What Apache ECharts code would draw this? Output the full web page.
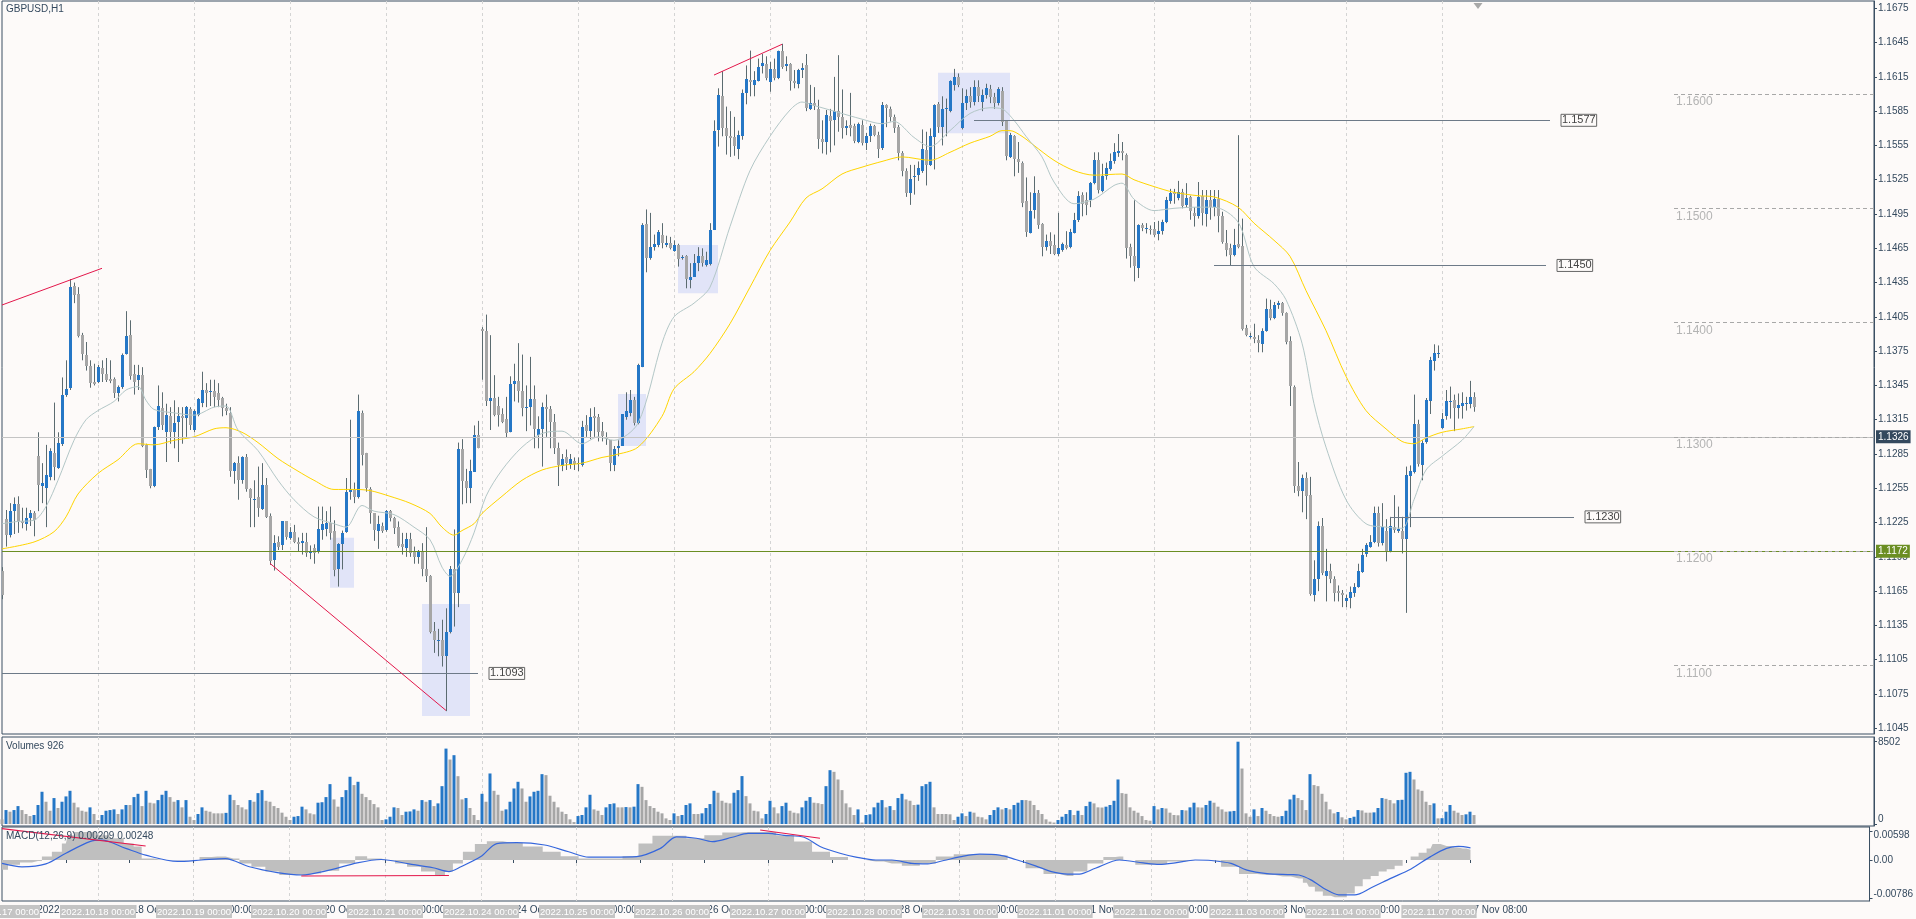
<!DOCTYPE html>
<html><head><meta charset="utf-8">
<script src="https://cdn.jsdelivr.net/npm/echarts@6/dist/echarts.min.js"></script>
<style>html,body{margin:0;padding:0;background:#fdfaf9;}#c{width:1916px;height:919px;}</style>
</head><body><div id="c"></div><script>
// ---------- DATA ----------
const tradingDays = ['2022.10.17','2022.10.18','2022.10.19','2022.10.20','2022.10.21','2022.10.24','2022.10.25','2022.10.26','2022.10.27','2022.10.28','2022.10.31','2022.11.01','2022.11.02','2022.11.03','2022.11.04','2022.11.07','2022.11.08','2022.11.09','2022.11.10','2022.11.11'];
const slotCount = 469;   // visible hourly slots (incl. empty right margin)
const lastBarIndex = 368;

// OHLC in 1/10000 units: [open, close, low, high]
const bars = [
[11183,11162,11158,11186],[11228,11214,11204,11236],[11214,11235,11212,11242],[11235,11241,11215,11247],[11241,11226,11216,11248],[11226,11224,11220,11238],[11224,11229,11218,11238],[11229,11233,11222,11236],[11233,11227,11213,11235],[11283,11258,11235,11304],
[11257,11260,11242,11277],[11256,11267,11221,11293],[11265,11288,11262,11290],[11286,11274,11262,11330],[11273,11295,11272,11304],[11294,11337,11292,11352],[11337,11342,11335,11367],[11343,11431,11341,11438],[11432,11424,11417,11435],[11425,11388,11387,11431],
[11389,11372,11367,11391],[11372,11362,11358,11383],[11362,11347,11343,11367],[11348,11346,11345,11364],[11348,11361,11347,11363],[11360,11355,11348,11367],[11355,11350,11348,11369],[11351,11349,11347,11367],[11351,11339,11334,11352],[11339,11344,11331,11345],
[11344,11372,11342,11373],[11372,11388,11372,11410],[11389,11353,11350,11402],[11355,11348,11337,11363],[11350,11354,11341,11363],[11354,11292,11291,11361],[11293,11271,11264,11294],[11272,11257,11255,11272],[11257,11309,11256,11309],[11309,11327,11306,11345],
[11325,11310,11306,11339],[11304,11319,11278,11329],[11318,11304,11294,11326],[11304,11312,11290,11332],[11313,11318,11278,11326],[11318,11316,11294,11326],[11316,11326,11300,11327],[11324,11310,11306,11326],[11306,11323,11304,11324],[11319,11333,11318,11334],
[11330,11341,11326,11357],[11341,11338,11326,11347],[11339,11340,11327,11350],[11340,11335,11326,11350],[11338,11332,11326,11347],[11334,11325,11318,11335],[11325,11322,11319,11329],[11321,11270,11265,11326],[11270,11277,11259,11278],[11277,11262,11245,11283],
[11262,11282,11259,11283],[11282,11254,11252,11285],[11254,11246,11221,11255],[11245,11246,11221,11262],[11247,11237,11230,11274],[11237,11258,11236,11277],[11258,11230,11229,11264],[11231,11192,11188,11233],[11192,11207,11183,11214],[11208,11204,11201,11213],
[11205,11226,11201,11226],[11226,11212,11210,11226],[11212,11217,11210,11221],[11217,11208,11207,11223],[11208,11206,11200,11212],[11207,11209,11197,11216],[11208,11198,11195,11216],[11198,11200,11193,11205],[11203,11199,11189,11206],[11199,11219,11198,11239],
[11219,11224,11210,11239],[11220,11225,11213,11235],[11225,11216,11210,11239],[11218,11184,11178,11227],[11184,11206,11169,11207],[11206,11216,11184,11218],[11217,11252,11216,11264],[11251,11254,11245,11315],[11254,11247,11242,11260],[11248,11323,11246,11337],
[11321,11284,11275,11323],[11286,11255,11252,11286],[11254,11233,11224,11256],[11233,11218,11209,11233],[11218,11224,11202,11231],[11222,11218,11216,11225],[11218,11235,11217,11236],[11235,11229,11226,11236],[11229,11220,11215,11230],[11221,11204,11203,11226],
[11206,11203,11197,11216],[11203,11211,11195,11216],[11211,11199,11195,11216],[11199,11195,11189,11204],[11195,11200,11189,11201],[11199,11184,11178,11207],[11184,11178,11173,11221],[11178,11129,11128,11179],[11130,11122,11111,11138],[11121,11122,11108,11132],
[11122,11108,11099,11140],[11108,11129,11060,11150],[11129,11184,11128,11187],[11184,11163,11134,11219],[11163,11289,11151,11295],[11289,11261,11241,11298],[11261,11255,11242,11272],[11255,11270,11242,11280],[11270,11302,11270,11310],[11302,11291,11290,11314],
[11394,11392,11350,11396],[11393,11332,11327,11407],[11331,11334,11306,11389],[11334,11319,11318,11354],[11327,11319,11309,11335],[11320,11313,11312,11325],[11316,11304,11299,11335],[11304,11346,11304,11353],[11346,11349,11331,11364],[11349,11340,11330,11382],
[11340,11325,11318,11372],[11325,11326,11305,11345],[11326,11333,11310,11370],[11333,11307,11290,11345],[11302,11307,11290,11318],[11307,11326,11274,11330],[11326,11324,11300,11337],[11324,11313,11290,11327],[11313,11290,11285,11320],[11290,11275,11257,11295],
[11275,11281,11270,11285],[11282,11277,11271,11289],[11277,11281,11272,11285],[11279,11276,11271,11282],[11276,11277,11270,11282],[11276,11309,11274,11314],[11310,11305,11300,11319],[11305,11317,11298,11325],[11318,11316,11300,11326],[11317,11304,11296,11320],
[11305,11301,11296,11313],[11300,11298,11293,11304],[11297,11277,11270,11297],[11275,11289,11270,11292],[11290,11292,11283,11297],[11292,11320,11292,11320],[11318,11323,11315,11339],[11321,11332,11318,11341],[11332,11312,11310,11335],[11312,11363,11311,11364],
[11361,11485,11361,11487],[11486,11456,11444,11499],[11456,11466,11455,11496],[11466,11469,11463,11477],[11468,11479,11466,11481],[11477,11470,11465,11487],[11468,11470,11466,11476],[11470,11466,11464,11475],[11463,11468,11462,11472],[11468,11456,11449,11469],
[11456,11457,11455,11459],[11458,11438,11430,11459],[11437,11440,11430,11452],[11440,11452,11440,11460],[11452,11458,11445,11466],[11458,11452,11449,11465],[11451,11455,11449,11462],[11451,11481,11450,11487],[11481,11568,11481,11577],[11568,11599,11554,11605],
[11598,11570,11563,11620],[11570,11563,11547,11589],[11563,11561,11545,11585],[11562,11554,11546,11580],[11552,11564,11543,11568],[11563,11601,11560,11604],[11601,11613,11591,11625],[11612,11610,11598,11638],[11608,11612,11598,11620],[11612,11624,11611,11631],
[11624,11627,11618,11635],[11626,11614,11612,11633],[11611,11622,11602,11628],[11622,11614,11612,11631],[11614,11638,11613,11638],[11638,11624,11622,11644],[11624,11626,11620,11633],[11626,11611,11603,11627],[11611,11609,11605,11621],[11609,11621,11605,11622],
[11621,11623,11614,11627],[11625,11587,11585,11635],[11587,11592,11586,11608],[11592,11589,11586,11606],[11587,11561,11552,11595],[11561,11558,11548,11577],[11558,11582,11547,11586],[11581,11577,11549,11587],[11577,11585,11555,11615],[11585,11580,11567,11634],
[11580,11570,11561,11604],[11570,11572,11564,11577],[11573,11570,11563,11601],[11572,11559,11557,11574],[11558,11574,11557,11575],[11573,11557,11555,11577],[11557,11563,11551,11566],[11563,11572,11558,11574],[11572,11564,11563,11573],[11564,11552,11544,11567],
[11552,11590,11551,11593],[11590,11587,11571,11591],[11587,11580,11576,11589],[11580,11570,11566,11582],[11571,11548,11542,11573],[11548,11532,11528,11550],[11533,11514,11510,11535],[11514,11526,11503,11538],[11527,11528,11512,11538],[11529,11535,11524,11541],
[11533,11552,11531,11569],[11551,11538,11520,11567],[11538,11563,11537,11570],[11562,11590,11534,11591],[11591,11571,11566,11593],[11571,11587,11555,11598],[11587,11588,11563,11596],[11585,11611,11584,11612],[11608,11615,11603,11622],[11615,11608,11606,11618],
[11570,11592,11569,11605],[11592,11598,11586,11604],[11598,11593,11588,11606],[11593,11606,11590,11612],[11606,11598,11593,11612],[11593,11599,11585,11604],[11599,11605,11596,11609],[11604,11597,11592,11608],[11597,11592,11587,11601],[11592,11604,11590,11606],
[11603,11576,11572,11606],[11576,11545,11542,11577],[11545,11564,11544,11566],[11563,11543,11528,11564],[11543,11540,11531,11558],[11540,11505,11501,11541],[11506,11479,11475,11527],[11479,11498,11478,11514],[11498,11513,11491,11528],[11513,11485,11482,11516],
[11486,11466,11458,11487],[11466,11471,11463,11477],[11471,11467,11460,11479],[11468,11460,11459,11477],[11460,11465,11458,11496],[11464,11469,11462,11470],[11468,11465,11464,11480],[11466,11479,11465,11482],[11479,11490,11478,11496],[11490,11511,11488,11515],
[11512,11504,11493,11514],[11507,11503,11494,11514],[11507,11522,11501,11523],[11522,11542,11521,11549],[11542,11516,11513,11549],[11515,11528,11514,11539],[11528,11535,11525,11540],[11534,11541,11533,11548],[11541,11549,11539,11557],[11548,11550,11545,11565],
[11550,11548,11542,11558],[11547,11466,11456,11548],[11466,11458,11448,11469],[11458,11449,11436,11507],[11447,11485,11439,11486],[11485,11482,11480,11487],[11482,11483,11478,11487],[11482,11481,11477,11485],[11482,11477,11475,11488],[11477,11480,11472,11489],
[11480,11488,11477,11490],[11488,11507,11487,11510],[11506,11513,11504,11517],[11514,11512,11504,11517],[11509,11514,11507,11524],[11514,11502,11500,11517],[11503,11509,11501,11522],[11510,11498,11490,11511],[11496,11493,11484,11501],[11493,11510,11491,11523],
[11511,11496,11485,11516],[11495,11507,11484,11516],[11507,11501,11490,11516],[11501,11508,11493,11516],[11508,11493,11479,11516],[11493,11470,11469,11497],[11470,11464,11458,11481],[11465,11459,11450,11469],[11459,11468,11458,11482],[11469,11466,11465,11564],
[11467,11394,11393,11491],[11395,11389,11388,11398],[11387,11388,11386,11391],[11387,11385,11382,11399],[11385,11382,11374,11389],[11382,11393,11374,11395],[11393,11412,11392,11421],[11412,11404,11402,11420],[11404,11415,11403,11418],[11415,11417,11412,11419],
[11417,11408,11406,11418],[11408,11383,11381,11409],[11384,11345,11327,11388],[11344,11257,11251,11345],[11257,11253,11248,11278],[11253,11264,11234,11267],[11264,11248,11228,11269],[11249,11162,11161,11265],[11162,11176,11156,11192],[11176,11222,11165,11226],
[11222,11181,11179,11229],[11179,11183,11156,11202],[11183,11176,11172,11189],[11176,11164,11156,11178],[11165,11163,11156,11170],[11163,11161,11151,11166],[11156,11159,11151,11162],[11159,11164,11150,11169],[11164,11169,11160,11172],[11169,11183,11168,11189],
[11182,11197,11181,11202],[11197,11205,11195,11207],[11204,11208,11203,11214],[11208,11233,11207,11239],[11233,11207,11204,11239],[11207,11221,11205,11242],[11218,11200,11191,11228],[11200,11222,11199,11230],[11221,11218,11216,11249],[11217,11219,11216,11239],
[11218,11211,11198,11230],[11211,11267,11146,11274],[11266,11270,11221,11275],[11269,11311,11268,11337],[11311,11276,11274,11315],[11276,11295,11262,11297],[11295,11332,11294,11334],[11331,11367,11320,11370],[11366,11373,11358,11381],[11372,11373,11369,11380],
[11308,11316,11307,11321],[11318,11331,11315,11341],[11330,11331,11316,11344],[11332,11325,11305,11337],[11325,11328,11316,11338],[11327,11330,11316,11339],[11329,11330,11323,11335],[11329,11335,11325,11349],[11335,11326,11322,11339]
];

const volumes = [
480,1440,1270,1440,1850,1440,1030,820,930,1960,
3330,2300,1370,2680,1650,2300,2850,3430,2200,1720,
1370,1270,1720,1030,410,930,1370,1440,1510,1030,
1510,1960,1960,2780,3120,1850,3430,2200,2130,2470,
3020,3430,2780,2300,2470,1720,2470,750,410,1030,
1720,1370,1270,1100,1100,1100,1150,3020,2470,1960,
1720,1510,2470,2300,3190,3500,2400,2300,1850,1650,
1170,750,410,750,820,1790,1510,1100,1000,2200,
2250,2780,4120,2540,1790,2780,3500,4880,4020,4360,
3120,2780,2470,2060,1720,410,480,750,1720,1650,
930,1270,1300,1510,1370,2470,2300,2470,1850,2130,
3910,7790,6660,7110,4940,2540,2680,1650,930,410,
3120,2300,5220,3430,3020,1370,1510,2300,3670,4360,
3670,2300,2850,3330,3430,5150,5050,2920,2300,1720,
1270,1030,480,200,820,930,1720,3020,1510,1370,
930,1720,2060,2130,1720,1720,1750,1720,1790,4120,
3840,2470,1850,1650,1270,1100,580,410,1100,820,
930,1960,2130,1030,1030,1100,1650,2060,3430,3230,
2400,2200,2130,3230,3500,4950,2880,2130,1370,1300,
580,1030,2400,1720,1100,1850,2200,1370,1170,1100,
1720,2400,2780,2200,2150,2060,3910,5560,5390,4600,
3500,2130,1720,930,1510,150,930,1000,1720,2200,
2470,1720,1850,1440,2680,3120,2540,2400,1960,2000,
3910,4120,4360,1720,1030,1030,1030,1000,410,750,
1100,820,1270,1170,750,690,480,930,1440,1720,
1510,1650,1510,1960,2200,2470,2470,2400,1960,1440,
1030,480,240,150,410,750,1030,1440,930,1370,
930,1850,2300,2130,1720,1700,1790,1960,2400,4600,
3190,3120,1720,1370,1170,820,410,340,1850,1510,
1650,1600,1170,930,900,1440,1400,1720,2200,1720,
1700,1960,2400,2200,1790,1510,1270,1300,1350,8502,
5730,1100,750,1510,820,1650,1370,1030,820,750,
820,1370,2540,3020,2680,2470,1440,5150,4020,3910,
3120,2300,1510,1100,1240,690,480,620,750,1440,
1400,1170,1170,1200,1650,2680,2600,2470,2130,2470,
2500,5290,5390,4600,3570,3430,2300,1960,2130,580,
600,1270,1960,1370,1170,930,1000,1270,926
];

// moving averages: [barIndex, value in 1/10000]
const maSlow = [[0,11202],[8,11208],[13,11217],[16,11230],[19,11250],[24,11268],[29,11280],[34,11294],[38,11293],[43,11297],[48,11300],[53,11307],[56,11308],[60,11304],[64,11295],[69,11281],[74,11270],[78,11262],[83,11254],[88,11254],[92,11253],[97,11248],[102,11242],[107,11233],[110,11221],[113,11214],[115,11218],[118,11224],[120,11233],[125,11248],[130,11262],[135,11271],[140,11275],[145,11277],[150,11282],[153,11284],[159,11291],[165,11318],[168,11342],[173,11357],[177,11373],[182,11399],[187,11431],[192,11463],[197,11488],[201,11509],[205,11517],[210,11530],[215,11536],[220,11541],[225,11545],[232,11542],[237,11549],[242,11557],[247,11563],[250,11568],[252,11568],[255,11563],[258,11555],[263,11542],[268,11533],[273,11529],[280,11530],[283,11525],[288,11519],[293,11514],[299,11511],[303,11510],[309,11501],[313,11487],[318,11472],[322,11458],[326,11428],[331,11393],[336,11353],[341,11323],[346,11307],[350,11296],[353,11294],[356,11299],[360,11304],[365,11307],[368,11309]];
const maFast = [[0,11224],[4,11226],[8,11227],[11,11239],[14,11262],[18,11297],[21,11315],[24,11323],[28,11331],[31,11341],[34,11344],[36,11332],[38,11324],[43,11321],[48,11319],[53,11326],[56,11327],[59,11306],[64,11288],[69,11262],[73,11245],[78,11230],[83,11224],[86,11221],[90,11240],[93,11235],[98,11232],[103,11221],[107,11210],[110,11186],[112,11178],[115,11192],[118,11216],[121,11248],[125,11271],[130,11291],[135,11303],[140,11305],[145,11294],[149,11300],[153,11297],[159,11312],[165,11382],[168,11405],[173,11417],[177,11431],[182,11484],[187,11533],[192,11563],[197,11586],[200,11593],[203,11590],[208,11585],[215,11578],[220,11574],[223,11576],[228,11562],[232,11554],[237,11568],[242,11583],[247,11588],[250,11587],[253,11577],[256,11563],[260,11545],[263,11523],[268,11504],[273,11508],[278,11520],[280,11522],[283,11508],[288,11498],[293,11500],[299,11501],[303,11501],[309,11488],[313,11449],[318,11434],[321,11420],[325,11382],[328,11329],[331,11291],[336,11245],[341,11224],[346,11221],[350,11220],[353,11245],[356,11271],[360,11283],[365,11297],[368,11309]];

// MACD(12,26,9): [barIndex, value]
const macdHist = [[0,-0.0020],[3,-0.0010],[6,-0.0005],[9,-0.0002],[11,0.0007],[14,0.0017],[16,0.0034],[17,0.0051],[19,0.0058],[22,0.0058],[25,0.0051],[29,0.0045],[32,0.0034],[34,0.0028],[36,0.0003],[40,0],[44,-0.0001],[48,0],[51,0.0006],[54,0.0007],[58,0.0003],[61,-0.0007],[64,-0.0014],[68,-0.0024],[71,-0.0031],[74,-0.0031],[78,-0.0028],[82,-0.0022],[87,-0.0007],[90,0.0008],[93,0.0003],[97,-0.0001],[100,-0.0007],[103,-0.0014],[107,-0.0024],[110,-0.0031],[112,-0.0024],[114,-0.0007],[117,0.0017],[120,0.0033],[123,0.0039],[128,0.0035],[133,0.0028],[138,0.0017],[142,0.0008],[147,0.0003],[153,0.0003],[158,0.0008],[161,0.0034],[165,0.0050],[169,0.0050],[174,0.0045],[178,0.0051],[183,0.0057],[187,0.0058],[192,0.0058],[196,0.0051],[201,0.0038],[205,0.0017],[210,0.0006],[214,0],[219,-0.0003],[223,-0.0007],[228,-0.0012],[232,-0.0007],[236,0.0007],[241,0.0012],[245,0.0012],[250,0.0010],[254,0],[259,-0.0017],[263,-0.0029],[267,-0.0033],[270,-0.0024],[274,-0.0007],[278,0.0006],[280,0.0007],[282,0],[286,-0.0010],[290,-0.0008],[294,-0.0003],[299,0],[303,-0.0001],[308,-0.0014],[312,-0.0029],[317,-0.0031],[321,-0.0034],[325,-0.0038],[327,-0.0047],[328,-0.0055],[330,-0.0065],[332,-0.0074],[334,-0.0077],[336,-0.0077],[338,-0.0069],[340,-0.0054],[342,-0.0040],[344,-0.0033],[346,-0.0024],[348,-0.0019],[350,-0.0012],[352,0],[354,0.0007],[356,0.0015],[358,0.0024],[359,0.0033],[362,0.0029],[364,0.0026],[366,0.0024],[368,0.0021]];
const macdSignal = [[0,-0.0007],[5,-0.0014],[11,-0.0008],[16,0.0014],[22,0.0038],[25,0.0041],[31,0.0024],[36,0.0010],[44,-0.0003],[50,0],[56,0.0003],[62,-0.0014],[69,-0.0026],[75,-0.0031],[82,-0.0021],[89,-0.0006],[95,0.0001],[102,-0.0008],[108,-0.0016],[112,-0.0024],[115,-0.0014],[120,0.0007],[124,0.0034],[129,0.0036],[136,0.0031],[142,0.0017],[147,0.0006],[153,0.0006],[159,0.0007],[165,0.0024],[169,0.0048],[174,0.0045],[178,0.0038],[183,0.0047],[187,0.0055],[192,0.0055],[196,0.0051],[201,0.0047],[205,0.0028],[210,0.0014],[214,0.0006],[219,0],[223,0],[228,-0.0007],[232,-0.0008],[236,-0.0001],[241,0.0008],[245,0.0012],[250,0.0010],[254,0.0001],[259,-0.0012],[263,-0.0024],[267,-0.0029],[270,-0.0029],[274,-0.0017],[280,0],[286,-0.0006],[290,-0.0009],[294,-0.0006],[299,0],[303,-0.0001],[308,-0.0007],[312,-0.0021],[317,-0.0028],[323,-0.0030],[325,-0.0031],[328,-0.0041],[332,-0.0062],[335,-0.0072],[339,-0.0072],[343,-0.0058],[348,-0.0038],[353,-0.0019],[358,0.0007],[362,0.0024],[365,0.0028],[368,0.0025]];

// axis tick labels
const priceTicks = [1.1045,1.1075,1.1105,1.1135,1.1165,1.1195,1.1225,1.1255,1.1285,1.1315,1.1345,1.1375,1.1405,1.1435,1.1465,1.1495,1.1525,1.1555,1.1585,1.1615,1.1645,1.1675];
const volumeTicks = [0, 8502];
const macdTicks = [0.00598, 0, -0.00786];

// drawn objects (values)
const bidPrice = 1.1326, greenLevel = 1.1172;
const roundLevels = [1.1600, 1.1500, 1.1400, 1.1300, 1.1200, 1.1100];
const roundLevelFrom = 418;
const labelledLines = [ // [fromIndex, toIndex, price]
  [0, 119, 1.1093], [243, 387, 1.1577], [303, 386, 1.1450], [347, 393, 1.1230]
];
const redPriceLines = [[0,1.14154,25,1.14475],[67,1.11893,111,1.10606],[178,1.16166,195,1.16435]];
const redMacdLines = [[0,0.0065,36,0.0029],[75,-0.0033,112,-0.0032],[190,0.0062,205,0.0045]];
const zones = [[82,1.12118,88,1.11680],[105,1.11538,117,1.10558],[154,1.13375,161,1.12920],[169,1.14680,179,1.14256],[234,1.16187,252,1.15656]];
const shiftMarker = [369, 1.1677];

// ---------- BUILD ----------
const months = {'10':'Oct','11':'Nov'};
const times = [];
tradingDays.forEach(d => { for (let h = 0; h < 24; h++) times.push(d + ' ' + String(h).padStart(2,'0') + ':00'); });
times.length = slotCount;

const BLUE='#2577c6', GRAYC='#a6a6a6', WICK='#5b6b70', BORDER='#3b4f63', TXT='#34495e';
const FONT = '"Liberation Sans", Arial, sans-serif';
const P = v => v / 10000;
const MACD_MIN = -0.00847, MACD_MAX = 0.00682;

const candleData = bars.map((b, i) => [i, P(b[0]), P(b[1]), P(b[2]), P(b[3])]);
const dayIdx = i => i % 24 === 0;
const dayLabelData = times.map((t, i) => i).filter(i => dayIdx(i) && i <= lastBarIndex).map(i => [i, MACD_MIN]);

function renderCandle(params, api) {
  const i = api.value(0), o = api.value(1), c = api.value(2), l = api.value(3), h = api.value(4);
  const pO = api.coord([i, o]), pC = api.coord([i, c]);
  const pL = api.coord([i, Math.min(l, o, c)]), pH = api.coord([i, Math.max(h, o, c)]);
  const x = Math.round(pO[0]) + 0.5;
  const top = Math.min(pO[1], pC[1]), bot = Math.max(pO[1], pC[1]);
  const color = c > o ? BLUE : GRAYC;
  return { type: 'group', children: [
    { type: 'line', shape: { x1: x, y1: pH[1], x2: x, y2: pL[1] }, style: { stroke: WICK, lineWidth: 1 } },
    { type: 'rect', shape: { x: x - 1.5, y: Math.round(top), width: 3, height: Math.max(1, Math.round(bot - top)) }, style: { fill: color } }
  ]};
}
function renderDayLabel(params, api) {
  const i = api.value(0);
  const p = api.coord([i, api.value(1)]);
  return { type: 'text', x: Math.round(p[0]), y: Math.round(p[1]) + 4, z2: 10,
    style: { text: times[i], fill: '#ffffff', backgroundColor: '#c4c4c4', padding: [2, 1, 1, 1],
      align: 'center', verticalAlign: 'top', font: '9.5px "Liberation Sans", Arial, sans-serif' } };
}

function baseX(gi) {
  return { type: 'category', gridIndex: gi, position: 'bottom', data: times, boundaryGap: false,
    axisLine: { show: false }, axisTick: { show: false }, axisLabel: { show: false },
    splitLine: { show: true, interval: (i) => i > 0 && i <= lastBarIndex && dayIdx(i), lineStyle: { color: '#d4d4d4', type: [3, 3], width: 1 } } };
}
const grids = [
  { left: 2, right: 42, top: 1, height: 733 },
  { left: 2, right: 42, top: 737, height: 89 },
  { left: 2, right: 42, top: 827, height: 74 }
].map(g => Object.assign(g, { show: true, borderColor: BORDER, borderWidth: 1, backgroundColor: 'transparent' }));

const xAxes = [baseX(0), baseX(1), baseX(2)];
xAxes[2].axisTick = { show: true, interval: (i) => i % 16 === 0 && i <= lastBarIndex, length: 3, lineStyle: { color: BORDER } };
xAxes[2].axisLabel = { show: true, interval: (i) => i % 16 === 0 && i <= lastBarIndex, align: 'left', margin: 4, padding: [0, 0, 0, 3],
  color: TXT, fontSize: 10, fontFamily: FONT,
  formatter: (v, i) => { const d = parseInt(v.slice(8, 10), 10), m = months[v.slice(5, 7)];
    return i === 0 ? d + ' ' + m + ' ' + v.slice(0, 4) : d + ' ' + m + ' ' + v.slice(11); } };

function yAx(gi, min, max, ticks, fmt, rich) {
  return { type: 'value', gridIndex: gi, position: 'right', min, max, scale: true,
    splitLine: { show: false }, axisLine: { show: true, lineStyle: { color: BORDER } },
    axisTick: { show: true, customValues: ticks, length: 3, lineStyle: { color: BORDER } },
    axisLabel: { customValues: ticks, formatter: fmt, color: TXT, fontSize: 10, fontFamily: FONT, margin: 4, rich: rich || {} } };
}
const yAxes = [
  yAx(0, 1.1040, 1.16814, priceTicks, v => v.toFixed(4)),
  yAx(1, -207, 8988, volumeTicks, v => v === 0 ? '{lo|0}' : '{hi|' + v + '}',
      { lo: { padding: [0, 0, 10, 0], color: TXT, fontSize: 10, fontFamily: FONT }, hi: { padding: [2, 0, 0, 0], color: TXT, fontSize: 10, fontFamily: FONT } }),
  yAx(2, MACD_MIN, MACD_MAX, macdTicks, v => v === 0 ? '0.00' : (v > 0 ? '{hi|' + v.toFixed(5) + '}' : '{lo|' + v.toFixed(5) + '}'),
      { lo: { padding: [0, 0, 8, 0], color: TXT, fontSize: 10, fontFamily: FONT }, hi: { padding: [8, 0, 0, 0], color: TXT, fontSize: 10, fontFamily: FONT } })
];

const lineColor = '#6d7a88';
const markLines = [];
markLines.push({ yAxis: bidPrice, lineStyle: { color: '#c4c4c4', width: 1, type: 'solid' },
  label: { show: true, position: 'end', distance: 2, formatter: bidPrice.toFixed(4), backgroundColor: '#34495e', color: '#fff', padding: [2, 2, 1, 2], fontSize: 10, fontFamily: FONT } });
markLines.push({ yAxis: greenLevel, lineStyle: { color: '#6b8e23', width: 1, type: 'solid' },
  label: { show: true, position: 'end', distance: 2, formatter: greenLevel.toFixed(4), backgroundColor: '#6b8e23', color: '#fff', padding: [2, 2, 1, 2], fontSize: 10, fontFamily: FONT } });
roundLevels.forEach(v => markLines.push([
  { coord: [roundLevelFrom, v], lineStyle: { color: '#a8a8a8', width: 1, type: [4, 3] },
    label: { show: true, position: 'insideStartBottom', distance: 2, formatter: v.toFixed(4), color: '#b4b4b4', fontSize: 12, fontFamily: FONT } },
  { coord: [slotCount - 1, v] }]));
labelledLines.forEach(([a, b, v]) => markLines.push([
  { coord: [a, v], lineStyle: { color: lineColor, width: 1, type: 'solid' },
    label: { show: true, position: 'end', distance: 11, formatter: v.toFixed(4), color: '#444', borderColor: '#666', borderWidth: 1, padding: [1, 1, 0, 1], fontSize: 11, fontFamily: FONT } },
  { coord: [b, v] }]));
redPriceLines.forEach(([a, va, b, vb]) => markLines.push([
  { coord: [a, va], lineStyle: { color: '#e3174b', width: 1, type: 'solid' }, label: { show: false } }, { coord: [b, vb] }]));

const macdMarks = redMacdLines.map(([a, va, b, vb]) => [
  { coord: [a, va], lineStyle: { color: '#e3174b', width: 1.2, type: 'solid' }, label: { show: false } }, { coord: [b, vb] }]);

const option = {
  backgroundColor: '#fdfaf9',
  animation: false,
  textStyle: { fontFamily: FONT },
  title: [
    { text: 'GBPUSD,H1', left: 6, top: 4, padding: 0, textStyle: { fontSize: 10, fontWeight: 'normal', color: TXT, fontFamily: FONT } },
    { text: 'Volumes 926', left: 6, top: 741, padding: 0, textStyle: { fontSize: 10, fontWeight: 'normal', color: TXT, fontFamily: FONT } },
    { text: 'MACD(12,26,9) 0.00209 0.00248', left: 6, top: 831, padding: 0, textStyle: { fontSize: 10, fontWeight: 'normal', color: TXT, fontFamily: FONT } }
  ],
  grid: grids,
  xAxis: xAxes,
  yAxis: yAxes,
  series: [
    { name: 'zones', type: 'line', xAxisIndex: 0, yAxisIndex: 0, data: [], z: 1, silent: true,
      markArea: { silent: true, itemStyle: { color: '#e1e4f8' }, data: zones.map(([a, va, b, vb]) => [{ coord: [a, va] }, { coord: [b, vb] }]) } },
    { name: 'GBPUSD', type: 'custom', xAxisIndex: 0, yAxisIndex: 0, data: candleData, renderItem: renderCandle,
      encode: { x: 0, y: [1, 2, 3, 4] }, clip: true, z: 2, silent: true },
    { name: 'MA slow', type: 'line', xAxisIndex: 0, yAxisIndex: 0, data: maSlow.map(([i, v]) => [i, P(v)]),
      showSymbol: false, smooth: 0.3, lineStyle: { color: '#ffd500', width: 1 }, z: 3, silent: true },
    { name: 'MA fast', type: 'line', xAxisIndex: 0, yAxisIndex: 0, data: maFast.map(([i, v]) => [i, P(v)]),
      showSymbol: false, smooth: 0.3, lineStyle: { color: '#b3c7c7', width: 1 }, z: 3, silent: true },
    { name: 'levels', type: 'line', xAxisIndex: 0, yAxisIndex: 0, data: [], z: 4, silent: true,
      markLine: { silent: true, symbol: ['none', 'none'], animation: false, data: markLines },
      markPoint: { silent: true, animation: false, label: { show: false },
        data: [{ coord: shiftMarker, symbol: 'triangle', symbolRotate: 180, symbolSize: [9, 6], itemStyle: { color: '#a8a8a8' } }] } },
    { name: 'Volumes', type: 'bar', xAxisIndex: 1, yAxisIndex: 1, barWidth: 3, silent: true,
      data: volumes.map((v, i) => ({ value: [i, v], itemStyle: { color: i > 0 && v > volumes[i - 1] ? BLUE : GRAYC } })) },
    { name: 'MACD', type: 'line', xAxisIndex: 2, yAxisIndex: 2, step: 'middle', data: macdHist, showSymbol: false, silent: true,
      lineStyle: { width: 0 }, areaStyle: { color: '#bfbfbf', opacity: 1 },
      markLine: { silent: true, symbol: ['none', 'none'], animation: false, data: macdMarks } },
    { name: 'Signal', type: 'line', xAxisIndex: 2, yAxisIndex: 2, data: macdSignal, showSymbol: false, silent: true,
      smooth: 0.3, lineStyle: { color: '#3566dc', width: 1.2 } },
    { name: 'dayLabels', type: 'custom', xAxisIndex: 2, yAxisIndex: 2, data: dayLabelData, renderItem: renderDayLabel,
      encode: { x: 0, y: 1 }, clip: false, z: 20, silent: true }
  ]
};
const chart = echarts.init(document.getElementById('c'), null, { renderer: 'canvas' });
chart.setOption(option);
</script></body></html>
